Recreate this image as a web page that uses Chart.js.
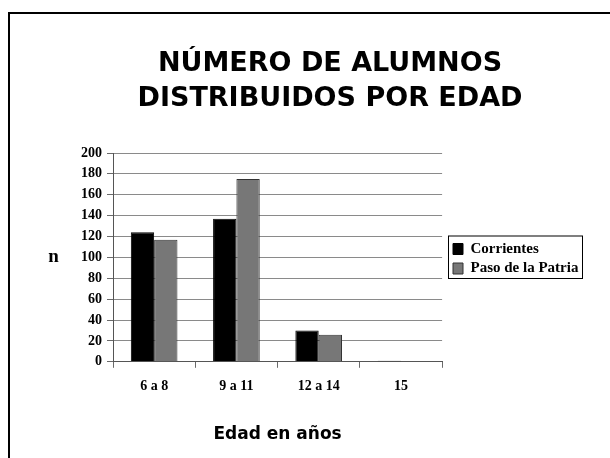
<!DOCTYPE html>
<html>
<head>
<meta charset="utf-8">
<script src="https://cdn.jsdelivr.net/npm/chart.js@4/dist/chart.umd.min.js"></script>
<style>
  html, body { margin: 0; padding: 0; overflow: hidden; background: #fff; width: 610px; height: 458px; }
  #frame { position: absolute; left: 8px; top: 12px; width: 700px; height: 500px; border-left: 2px solid #000; border-top: 2px solid #000; box-sizing: border-box; }
  #wrap { position: absolute; left: 0; top: 0; width: 660px; height: 458px; }
</style>
</head>
<body>
<div id="frame"></div>
<div id="wrap"><canvas id="c"></canvas></div>
<script>
const titleLines = ['NÚMERO DE ALUMNOS', 'DISTRIBUIDOS POR EDAD'];
const categories = ['6 a 8', '9 a 11', '12 a 14', '15'];
const seriesNames = ['Corrientes', 'Paso de la Patria'];
const corrientes = [124, 137, 30, 1];
const pasoDeLaPatria = [117, 175, 26, 0];
const yMin = 0, yMax = 200, yStep = 20;
const xTitle = 'Edad en años';
const yTitle = 'n';

const serif = '"Liberation Serif", "Times New Roman", serif';
const sans = '"DejaVu Sans", Verdana, sans-serif';

const extras = {
  id: 'extras',
  afterLayout(chart) {
    const tb = chart.titleBlock;
    if (tb) { tb.left = 78; tb.width = tb.right - tb.left; }
    const lg = chart.legend;
    const pad = 4.5;
    lg.left = 448.5;
    lg.right = lg.left + lg.width;
    lg.top = 237;
    lg.bottom = lg.top + pad + 2 * (15 + pad);
  },
  afterDraw(chart) {
    const ctx = chart.ctx;
    const a = chart.chartArea;
    ctx.save();
    ctx.fillStyle = '#000';
    ctx.font = 'bold 19px ' + serif;
    ctx.textAlign = 'center';
    ctx.textBaseline = 'middle';
    ctx.fillText(yTitle, 53.5, (a.top + a.bottom) / 2);
    const hb = chart.legend.legendHitBoxes;
    if (hb && hb.length) {
      const first = hb[0], last = hb[hb.length - 1];
      ctx.strokeStyle = '#000';
      ctx.lineWidth = 1;
      ctx.strokeRect(448.5, first.top - 5.5, 134, (last.top + last.height + 2.5) - (first.top - 5.5));
    }
    ctx.restore();
  }
};

new Chart(document.getElementById('c'), {
  type: 'bar',
  data: {
    labels: categories,
    datasets: [
      { label: seriesNames[0], data: corrientes, backgroundColor: '#000000', borderColor: '#000000', borderWidth: 1 },
      { label: seriesNames[1], data: pasoDeLaPatria, backgroundColor: '#777777', borderColor: '#333333', borderWidth: 1 }
    ]
  },
  options: {
    responsive: true,
    maintainAspectRatio: false,
    animation: false,
    events: [],
    layout: { padding: { left: 0, right: 78, top: 0, bottom: 13 } },
    datasets: { bar: { categoryPercentage: 0.567, barPercentage: 1.0 } },
    plugins: {
      title: {
        display: true,
        text: titleLines,
        color: '#000',
        font: { family: sans, size: 27, weight: 'bold', lineHeight: 1.3 },
        padding: { top: 46.5, bottom: 36.3 }
      },
      legend: {
        position: 'right',
        labels: {
          color: '#000',
          font: { family: serif, size: 15, weight: 'bold' },
          boxWidth: 10,
          boxHeight: 11,
          padding: 4.5
        }
      },
      tooltip: { enabled: false }
    },
    scales: {
      x: {
        grid: {
          offset: true,
          drawOnChartArea: true,
          color: (c) => (c.index === categories.length ? '#7a7a7a' : 'rgba(0,0,0,0)'),
          tickColor: '#6a6a6a',
          tickLength: 6
        },
        border: { color: '#555', width: 1 },
        ticks: { color: '#000', font: { family: serif, size: 14, weight: 'bold' }, padding: 10 },
        title: {
          display: true,
          text: xTitle,
          color: '#000',
          font: { family: sans, size: 17, weight: 'bold' },
          padding: { top: 20, bottom: 0 }
        }
      },
      y: {
        min: yMin,
        max: yMax,
        afterFit: (s) => { s.width = 113; },
        grid: { color: '#8a8a8a', tickColor: '#6a6a6a', tickLength: 6 },
        border: { color: '#555', width: 1 },
        ticks: { stepSize: yStep, color: '#000', font: { family: serif, size: 14, weight: 'bold' }, padding: 5 }
      }
    }
  },
  plugins: [extras]
});
</script>
</body>
</html>
